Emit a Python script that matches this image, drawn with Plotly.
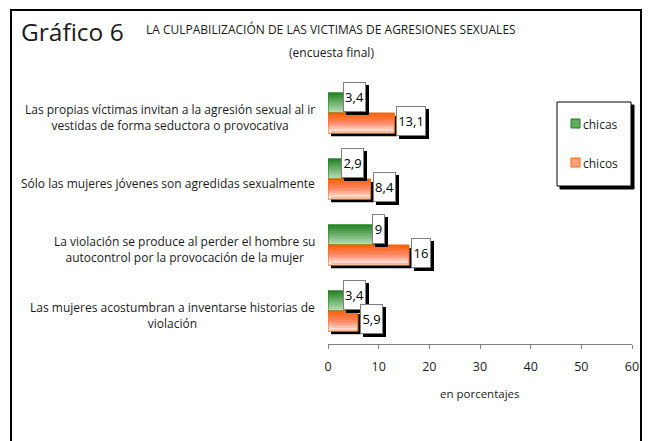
import plotly.graph_objects as go

# data
categorias = [
    "Las propias víctimas invitan a la agresión sexual al ir<br>vestidas de forma seductora o provocativa",
    "Sólo las mujeres jóvenes son agredidas sexualmente",
    "La violación se produce al perder el hombre su<br>autocontrol por la provocación de la mujer",
    "Las mujeres acostumbran a inventarse historias de<br>violación",
]
chicas = [3.4, 2.9, 9, 3.4]
chicos = [13.1, 8.4, 16, 5.9]
etiquetas_chicas = ["3,4", "2,9", "9", "3,4"]
etiquetas_chicos = ["13,1", "8,4", "16", "5,9"]
x_ticks = [0, 10, 20, 30, 40, 50, 60]

FONT = "Open Sans, sans-serif"

# the page body has an 8px margin, so the figure is drawn 8px in from the corner
OFF = 8
PAGE_W, PAGE_H = 655, 441
W, H_PX = PAGE_W - OFF, PAGE_H - OFF
# plot area in page pixels
L, R, T, B = 328, 632, 80, 344


def px_x(p):
    return (p - L) / (R - L)


def px_y(p):
    return (B - p) / (B - T)


def mix(c1, c2, t):
    a = [int(c1[i:i + 2], 16) for i in (1, 3, 5)]
    b = [int(c2[i:i + 2], 16) for i in (1, 3, 5)]
    return "#%02x%02x%02x" % tuple(round(a[i] + (b[i] - a[i]) * t) for i in range(3))


def box_width(lab):
    return sum(3 if ch == "," else 7 for ch in lab) + 2


pos = list(range(len(categorias)))
BAR_H = 20 / 65.5      # bar thickness in category units
SH_Y = 3 / 65.5        # shadow offset (vertical)
SH_X = 0.6             # shadow offset (horizontal, ~3px)
K = 10                 # gradient strips

fig = go.Figure()

# shadows
for vals, off in [(chicas, -BAR_H), (chicos, 0)]:
    fig.add_trace(go.Bar(
        y=pos, x=vals, base=SH_X, orientation="h",
        width=BAR_H, offset=off + SH_Y,
        marker=dict(color="black", line=dict(width=0)),
        showlegend=False, hoverinfo="skip",
    ))

# gradient bars
green_stops = ("#2a872a", "#b4dcb4")
orange_stops = [("#ff6410", "#ff8a6a"), ("#ff8a6a", "#fff0ea")]
for k in range(K):
    t = k / (K - 1)
    fig.add_trace(go.Bar(
        y=pos, x=chicas, orientation="h",
        width=BAR_H / K + 0.002, offset=-BAR_H + k * BAR_H / K,
        marker=dict(color=mix(green_stops[0], green_stops[1], t), line=dict(width=0)),
        showlegend=False, hoverinfo="skip",
    ))
    if t < 0.5:
        oc = mix(orange_stops[0][0], orange_stops[0][1], t * 2)
    else:
        oc = mix(orange_stops[1][0], orange_stops[1][1], (t - 0.5) * 2)
    fig.add_trace(go.Bar(
        y=pos, x=chicos, orientation="h",
        width=BAR_H / K + 0.002, offset=k * BAR_H / K,
        marker=dict(color=oc, line=dict(width=0)),
        showlegend=False, hoverinfo="skip",
    ))

# outlines
fig.add_trace(go.Bar(
    y=pos, x=chicas, orientation="h", width=BAR_H, offset=-BAR_H,
    marker=dict(color="rgba(0,0,0,0)", line=dict(color="#1e7a1e", width=1)),
    name="chicas", showlegend=False,
    hovertemplate="chicas: %{x}<extra></extra>",
))
fig.add_trace(go.Bar(
    y=pos, x=chicos, orientation="h", width=BAR_H, offset=0,
    marker=dict(color="rgba(0,0,0,0)", line=dict(color="#ff6600", width=1)),
    name="chicos", showlegend=False,
    hovertemplate="chicos: %{x}<extra></extra>",
))

annotations = []

# data labels with drop shadow
for vals, labs, yc, xs, ys in [(chicas, etiquetas_chicas, -BAR_H / 2, -2, 6),
                               (chicos, etiquetas_chicos, BAR_H / 2, 2, 2)]:
    for i, (v, lab) in enumerate(zip(vals, labs)):
        for shadow in (True, False):
            annotations.append(dict(
                x=v, y=i + yc, xref="x", yref="y",
                text="&nbsp;" if shadow else lab, showarrow=False,
                xanchor="left", yanchor="middle",
                xshift=xs + (3 if shadow else 0), yshift=ys - (3 if shadow else 0),
                font=dict(family=FONT, size=13, color="black"),
                bgcolor="black" if shadow else "white",
                bordercolor="black" if shadow else "#7f7f7f",
                borderwidth=1, borderpad=1, height=26, width=box_width(lab),
            ))

# category labels (centered lines)
for i, c in enumerate(categorias):
    annotations.append(dict(
        x=px_x(317), y=i, xref="paper", yref="y", text=c, showarrow=False,
        xanchor="right", yanchor="middle", align="center", yshift=-4,
        font=dict(family=FONT, size=12, color="#1a1a1a"),
    ))

# titles
annotations += [
    dict(x=px_x(19), y=px_y(32), xref="paper", yref="paper", text="Gráfico 6",
         showarrow=False, xanchor="left", yanchor="middle",
         font=dict(family=FONT, size=24.5, color="#1a1a1a")),
    dict(x=px_x(331), y=px_y(30), xref="paper", yref="paper",
         text="LA CULPABILIZACIÓN DE LAS VICTIMAS DE AGRESIONES SEXUALES",
         showarrow=False, xanchor="center", yanchor="middle",
         font=dict(family=FONT, size=12, color="#1a1a1a")),
    dict(x=px_x(331), y=px_y(52), xref="paper", yref="paper", text="(encuesta final)",
         showarrow=False, xanchor="center", yanchor="middle",
         font=dict(family=FONT, size=12, color="#1a1a1a")),
    dict(x=px_x(480), y=px_y(393), xref="paper", yref="paper", text="en porcentajes",
         showarrow=False, xanchor="center", yanchor="middle",
         font=dict(family=FONT, size=11.5, color="#1a1a1a")),
]

# legend texts
annotations += [
    dict(x=px_x(581), y=px_y(124), xref="paper", yref="paper", text="chicas",
         showarrow=False, xanchor="left", yanchor="middle",
         font=dict(family=FONT, size=12, color="#1a1a1a")),
    dict(x=px_x(581), y=px_y(163), xref="paper", yref="paper", text="chicos",
         showarrow=False, xanchor="left", yanchor="middle",
         font=dict(family=FONT, size=12, color="#1a1a1a")),
]

shapes = [
    # outer frame
    dict(type="rect", xref="paper", yref="paper",
         x0=px_x(11), x1=px_x(641), y0=px_y(470), y1=px_y(10),
         line=dict(color="black", width=2), fillcolor="rgba(0,0,0,0)", layer="below"),
    # legend box with shadow
    dict(type="rect", xref="paper", yref="paper",
         x0=px_x(560), x1=px_x(634), y0=px_y(189), y1=px_y(105),
         line=dict(color="black", width=1), fillcolor="black", layer="above"),
    dict(type="rect", xref="paper", yref="paper",
         x0=px_x(557), x1=px_x(631), y0=px_y(186), y1=px_y(102),
         line=dict(color="black", width=1), fillcolor="white", layer="above"),
    # legend swatches
    dict(type="rect", xref="paper", yref="paper",
         x0=px_x(571), x1=px_x(580), y0=px_y(128), y1=px_y(119),
         line=dict(color="#1e7a1e", width=1), fillcolor="#5fae5f", layer="above"),
    dict(type="rect", xref="paper", yref="paper",
         x0=px_x(571), x1=px_x(580), y0=px_y(167), y1=px_y(158),
         line=dict(color="#ff6600", width=1), fillcolor="#ffa080", layer="above"),
]

fig.update_layout(
    width=W, height=H_PX,
    margin=dict(l=L - OFF, r=PAGE_W - R, t=T - OFF, b=PAGE_H - B),
    paper_bgcolor="white", plot_bgcolor="white",
    barmode="overlay",
    showlegend=False,
    annotations=annotations,
    shapes=shapes,
    font=dict(family=FONT, size=12, color="#1a1a1a"),
    xaxis=dict(
        range=[0, 60], tickvals=x_ticks, ticktext=[str(t) for t in x_ticks],
        showgrid=False, zeroline=False, showline=True,
        linecolor="#808080", linewidth=1,
        ticks="outside", ticklen=4, tickcolor="#808080",
        ticklabelstandoff=7,
        tickfont=dict(family=FONT, size=12.5, color="#1a1a1a"),
        fixedrange=True,
    ),
    yaxis=dict(
        range=[len(categorias) - 0.5, -0.5], showticklabels=False,
        showgrid=False, zeroline=False, showline=False, ticks="",
        fixedrange=True,
    ),
)

fig.write_html("out.html")
